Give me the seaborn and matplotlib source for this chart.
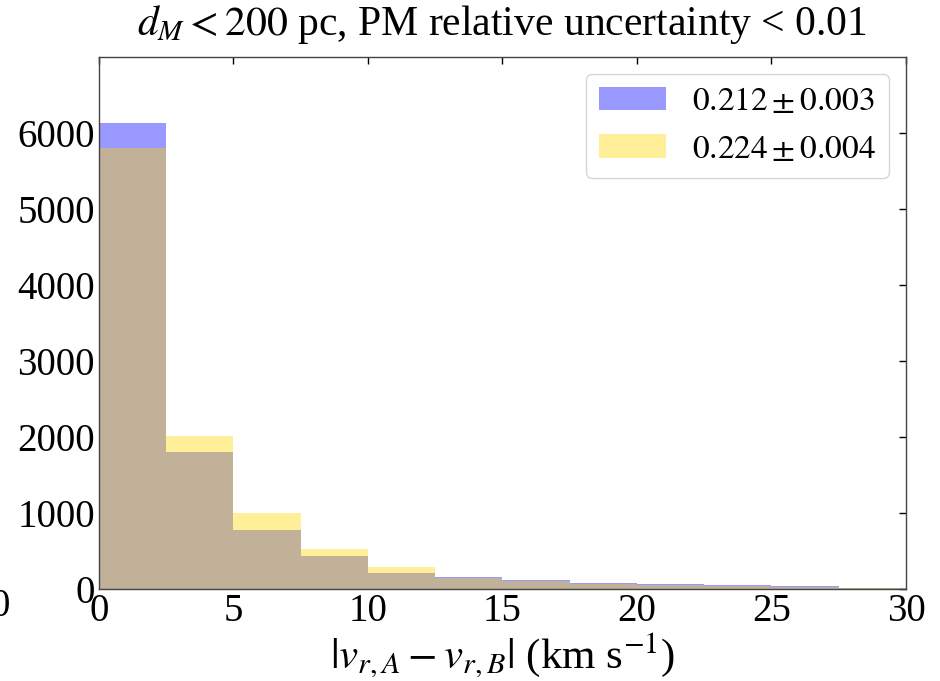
import numpy as np
import matplotlib
matplotlib.use("Agg")
import matplotlib.pyplot as plt
import seaborn as sns

# histogram bins and counts
bin_edges = [0, 2.5, 5, 7.5, 10, 12.5, 15, 17.5, 20, 22.5, 25, 27.5, 30]
counts_a = [6130, 1800, 776, 434, 210, 160, 118, 83, 65, 48, 40, 12]
counts_b = [5800, 2013, 1000, 526, 290, 150, 100, 65, 52, 40, 25, 8]
label_a = r"$0.212 \pm 0.003$"
label_b = r"$0.224 \pm 0.004$"

sns.set_style("white")
plt.rcParams['font.family'] = ['Liberation Serif', 'DejaVu Serif']
plt.rcParams['mathtext.fontset'] = 'stix'
for key in ['text.color', 'axes.labelcolor', 'xtick.color', 'ytick.color']:
    plt.rcParams[key] = 'black'

centers = 0.5 * (np.array(bin_edges[:-1]) + np.array(bin_edges[1:]))

fig = plt.figure(figsize=(9.4, 6.81), dpi=100)
ax = fig.add_axes([0.1053, 0.1351, 0.8585, 0.7812])

sns.histplot(x=centers, weights=counts_a, bins=bin_edges, color='blue', alpha=0.4,
             edgecolor='none', linewidth=0, label=label_a, ax=ax)
sns.histplot(x=centers, weights=counts_b, bins=bin_edges, color='gold', alpha=0.4,
             edgecolor='none', linewidth=0, label=label_b, ax=ax)

ax.set_xlim(0, 30)
ax.set_ylim(0, 7000)
ax.set_xticks([0, 5, 10, 15, 20, 25, 30])
ax.set_yticks([0, 1000, 2000, 3000, 4000, 5000, 6000])
ax.tick_params(direction='in', top=True, right=True, length=5, width=1,
               labelsize=28, pad=3)
for s in ax.spines.values():
    s.set_color('#444444')
    s.set_linewidth(1.0)

ax.set_title(r"$d_M < 200$ pc, PM relative uncertainty < 0.01", fontsize=30, pad=16)
ax.set_xlabel(r"$|v_{r,A} - v_{r,B}|$ (km s$^{-1}$)", fontsize=31, labelpad=0)
ax.set_ylabel("")
ax.legend(loc='upper right', fontsize=24, frameon=True, handlelength=2.0,
          handletextpad=0.8)

fig.text(0.0, 0.11, "0", fontsize=28, ha='center', va='center')

fig.savefig("out.png", dpi=100)
